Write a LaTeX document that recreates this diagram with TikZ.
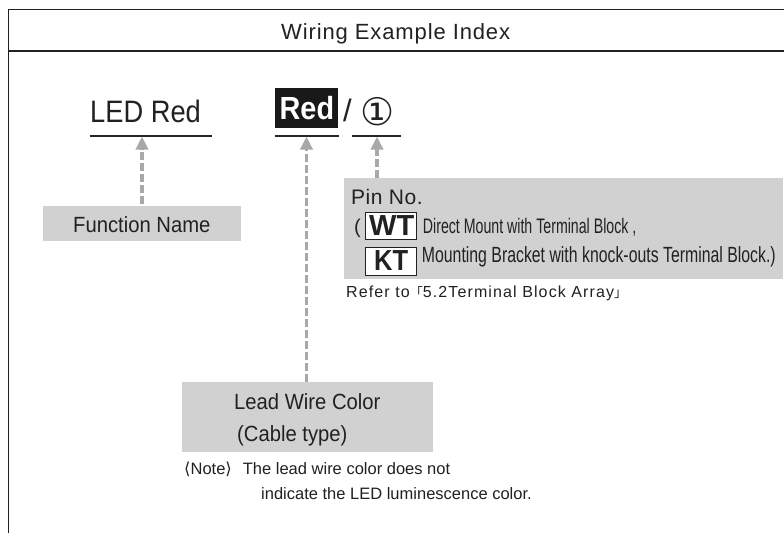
\documentclass[tikz,border=0pt]{standalone}
\usepackage{fontspec}
\setmainfont{Liberation Sans}
\newfontfamily\sym{DejaVu Sans}
\newfontfamily\cjkf{Noto Sans CJK JP}
\usetikzlibrary{arrows.meta}
\definecolor{boxgray}{gray}{0.82}
\definecolor{arrowgray}{gray}{0.66}
\definecolor{ink}{gray}{0.13}
\tikzset{
  x=1pt,y=-1pt,
  frameline/.style={draw=ink,line width=1.2pt},
  rule/.style={draw=black!85,line width=1.9pt},
  panel/.style={fill=boxgray,draw=none,inner sep=0pt,anchor=north west},
  txt/.style={inner sep=0pt,anchor=base west,text=ink},
  ptr/.style={draw=arrowgray,line width=3.8pt,dash pattern=on 8pt off 3pt,-{Triangle[length=13pt,width=12pt]}},
  keybox/.style={draw=ink,fill=white,line width=0.8pt,inner sep=0pt,anchor=north west}
}
\begin{document}
\begin{tikzpicture}
\useasboundingbox (0,0) rectangle (784,533);
\path[fill=white] (0,0) rectangle (784,533);
% frame
\coordinate (fbl) at (8.5,533); \coordinate (ftl) at (8.5,9.5); \coordinate (ftr) at (784,9.5);
\coordinate (hl) at (8.5,51); \coordinate (hr) at (784,51);
\draw[frameline] (fbl) -- (ftl) -- (ftr);
\draw[frameline] (hl) -- (hr);
\node[txt,font=\fontsize{22}{22}\selectfont] (title) at (281,39.5) {\addfontfeature{LetterSpace=4}Wiring Example Index};
% panels
\node[panel,minimum width=198.5pt,minimum height=34.5pt] (fn) at (42.5,206) {};
\node[txt,font=\fontsize{22}{22}\selectfont] (fnt) at (73,232.5) {\addfontfeature{FakeStretch=0.92}Function Name};
\node[panel,minimum width=251pt,minimum height=70pt] (ld) at (182,382) {};
\node[panel,minimum width=439pt,minimum height=101pt] (pn) at (344,177.5) {};
% headline
\node[txt,font=\fontsize{31}{31}\selectfont] (led) at (90,122) {\addfontfeature{FakeStretch=0.88}LED Red};
\node[fill=black!90,inner sep=0pt,minimum width=63pt,minimum height=40pt,anchor=north west] (red) at (275,87.5) {};
\node[txt,text=white,font=\bfseries\fontsize{32}{32}\selectfont] (redt) at (279.5,119.5) {\addfontfeature{FakeStretch=0.9}Red};
\node[txt,font=\fontsize{31}{31}\selectfont] (slash) at (343,121) {/};
\node[txt,font=\sym\fontsize{38}{38}\selectfont] (one) at (360.5,125) {①};
% rules
\coordinate (r1a) at (89.5,136); \coordinate (r1b) at (212,136);
\coordinate (r2a) at (275,136); \coordinate (r2b) at (339,136);
\coordinate (r3a) at (352,136); \coordinate (r3b) at (401,136);
\draw[rule] (r1a) -- (r1b);
\draw[rule] (r2a) -- (r2b);
\draw[rule] (r3a) -- (r3b);
% arrows
\coordinate (a1) at (142,136.5); \coordinate (a1s) at (142,204);
\coordinate (a2) at (306.5,136.5); \coordinate (a2s) at (306.5,382);
\coordinate (a3) at (377,136.5); \coordinate (a3s) at (377,177.5);
\draw[ptr] (a1s) -- (a1);
\draw[ptr] (a2s) -- (a2);
\draw[ptr] (a3s) -- (a3);
% pin panel text
\node[txt,font=\fontsize{21}{21}\selectfont] (pin) at (351,204) {\addfontfeature{LetterSpace=2.5}Pin No.};
\node[txt,font=\fontsize{20}{20}\selectfont] (par) at (354,233) {(};
\node[keybox,minimum width=51pt,minimum height=27pt] (wt) at (365,212) {};
\node[keybox,minimum width=51pt,minimum height=28pt] (kt) at (365,247) {};
\node[txt,font=\bfseries\fontsize{29}{29}\selectfont] (wtt) at (369,235) {WT};
\node[txt,font=\bfseries\fontsize{29}{29}\selectfont] (ktt) at (374,270) {\addfontfeature{FakeStretch=0.88}KT};
\node[txt,font=\fontsize{21}{21}\selectfont] (d1) at (422.7,233) {\addfontfeature{FakeStretch=0.675}Direct Mount with Terminal Block ,};
\node[txt,font=\fontsize{22}{22}\selectfont] (d2) at (421.7,262.7) {\addfontfeature{FakeStretch=0.72}Mounting Bracket with knock-outs Terminal Block.)};
\node[txt,font=\fontsize{16}{16}\selectfont] (ref) at (346,297) {\addfontfeature{LetterSpace=7}Refer to{\cjkf\fontsize{13}{13}\selectfont 「}5.2Terminal Block Array{\cjkf\fontsize{13}{13}\selectfont 」}};
% lead panel text
\node[txt,font=\fontsize{22}{22}\selectfont] (lw) at (234,409.5) {\addfontfeature{FakeStretch=0.92}Lead Wire Color};
\node[txt,font=\fontsize{22}{22}\selectfont] (ct) at (237,441.5) {\addfontfeature{FakeStretch=0.92}(Cable type)};
\node[txt,font=\fontsize{16.5}{16.5}\selectfont] (n0) at (184,474) {{\sym\char"27E8}Note{\sym\char"27E9}};
\node[txt,font=\fontsize{16.5}{16.5}\selectfont] (n1) at (242.7,474) {The lead wire color does not};
\node[txt,font=\fontsize{16.5}{16.5}\selectfont] (n2) at (261,499) {indicate the LED luminescence color.};
\end{tikzpicture}
\end{document}
